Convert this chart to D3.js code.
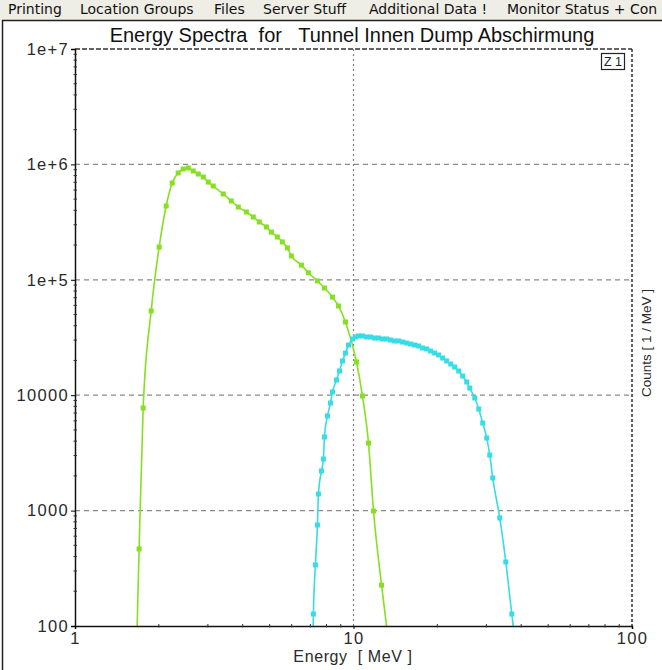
<!DOCTYPE html>
<html>
<head>
<meta charset="utf-8">
<script src="https://cdn.jsdelivr.net/npm/d3@7"></script>
<style>
  html, body { margin: 0; padding: 0; background: #ffffff; }
  svg { display: block; }
</style>
</head>
<body>
<svg id="chart" width="662" height="670"></svg>
<script>
// Menu entries of the viewer window
const menuItems = ["Printing", "Location Groups", "Files", "Server Stuff", "Additional Data !", "Monitor Status + Con"];
const menuX = [8, 80, 214, 263, 369, 507];

// Axis ticks
const xTickValues = [1, 10, 100];
const xTickLabels = ["1", "10", "100"];
const yTickValues = [100, 1000, 10000, 1e5, 1e6, 1e7];
const yTickLabels = ["100", "1000", "10000", "1e+5", "1e+6", "1e+7"];

// Spectrum 1 (green): energy [MeV] and counts [1/MeV]
const greenEnergy = [1.67, 1.699, 1.757, 1.877, 2.005, 2.125, 2.234, 2.347, 2.446, 2.550, 2.658, 2.770, 2.887, 3.009, 3.136, 3.406, 3.640, 3.858, 4.123, 4.368, 4.590, 4.866, 5.070, 5.327, 5.553, 5.788, 5.984, 6.502, 6.889, 7.422, 7.865, 8.404, 8.831, 9.359, 10.25, 10.77, 11.32, 11.80, 12.61, 13.21];
const greenCounts = [90, 465, 7745, 53700, 192300, 436000, 690000, 843000, 912000, 931000, 877000, 826000, 778000, 703000, 650000, 554000, 482000, 427000, 387000, 350000, 317000, 287000, 259000, 235000, 213000, 189000, 161000, 134000, 115000, 97700, 84900, 70900, 59300, 43100, 19400, 9840, 3850, 992, 226, 90];

// Spectrum 2 (cyan)
const cyanEnergy = [7.16, 7.178, 7.298, 7.422, 7.483, 7.672, 7.800, 7.865, 8.063, 8.266, 8.404, 8.687, 8.906, 9.129, 9.359, 9.594, 9.917, 10.17, 10.42, 10.77, 11.14, 11.52, 11.90, 12.30, 12.72, 13.14, 13.59, 14.05, 14.52, 15.01, 15.51, 16.03, 16.58, 17.13, 17.71, 18.30, 18.92, 19.56, 20.22, 20.90, 21.61, 22.34, 23.09, 23.87, 24.67, 25.50, 26.15, 27.25, 28.16, 29.11, 30.09, 30.85, 31.62, 33.51, 35.23, 37.02, 37.64];
const cyanCounts = [90, 127, 338, 750, 1393, 2204, 2800, 4344, 6604, 8553, 10660, 13550, 16200, 19800, 23200, 27200, 30700, 31940, 32600, 32600, 31940, 31900, 31300, 31300, 30700, 30700, 30070, 29500, 29500, 28900, 28340, 27780, 27230, 26700, 25650, 25150, 24150, 23200, 22300, 21000, 19800, 18640, 17550, 16200, 14660, 13010, 11540, 9460, 7590, 5740, 4256, 3033, 1917, 863, 359, 127, 90];

const greenColor = "#86e020";
const cyanColor = "#36dde6";

const svg = d3.select("#chart");
const font = "Liberation Sans, Arial, sans-serif";

// ---- window chrome: menu bar and panel frame ----
svg.append("rect").attr("x", 0).attr("y", 0).attr("width", 662).attr("height", 20).attr("fill", "#eeede6");
svg.selectAll("text.menu").data(menuItems).join("text")
  .attr("class", "menu")
  .attr("x", (d, i) => menuX[i]).attr("y", 14)
  .attr("font-family", "DejaVu Sans, Verdana, sans-serif")
  .attr("font-size", 14).attr("fill", "#111")
  .text(d => d);
svg.append("line").attr("x1", 2).attr("x2", 662).attr("y1", 20.5).attr("y2", 20.5).attr("stroke", "#222").attr("stroke-width", 1.5);
svg.append("line").attr("x1", 2.5).attr("x2", 2.5).attr("y1", 20).attr("y2", 670).attr("stroke", "#222").attr("stroke-width", 1.5);

// ---- plot area ----
const L = 75, R = 632, T = 49, B = 626;
const x = d3.scaleLog().domain([1, 100]).range([L, R]);
const y = d3.scaleLog().domain([100, 1e7]).range([B, T]);

// title
svg.append("text")
  .attr("x", 352).attr("y", 42)
  .attr("text-anchor", "middle")
  .attr("font-family", font)
  .attr("font-size", 20).attr("fill", "#111")
  .attr("xml:space", "preserve")
  .text("Energy Spectra  for   Tunnel Innen Dump Abschirmung");

// grid lines
const grid = svg.append("g");
grid.selectAll("line.hg").data(yTickValues.slice(1, -1)).join("line")
  .attr("x1", L).attr("x2", R).attr("y1", d => y(d)).attr("y2", d => y(d))
  .attr("stroke", "#8a8a8a").attr("stroke-width", 1.2).attr("stroke-dasharray", "5,4");
grid.selectAll("line.vg").data(xTickValues.slice(1, -1)).join("line")
  .attr("y1", T).attr("y2", B).attr("x1", d => x(d)).attr("x2", d => x(d))
  .attr("stroke", "#7d7a88").attr("stroke-width", 1.2).attr("stroke-dasharray", "2,3");

// frame: top and right borders dashed, left and bottom axes solid
svg.append("line").attr("x1", L).attr("x2", R).attr("y1", T).attr("y2", T).attr("stroke", "#333").attr("stroke-width", 1.5).attr("stroke-dasharray", "5,2");
svg.append("line").attr("x1", R).attr("x2", R).attr("y1", T).attr("y2", B).attr("stroke", "#333").attr("stroke-width", 1.5).attr("stroke-dasharray", "3,2");

// clipped data layer
svg.append("defs").append("clipPath").attr("id", "plotClip")
  .append("rect").attr("x", L).attr("y", T).attr("width", R - L).attr("height", B - T);
const dataLayer = svg.append("g").attr("clip-path", "url(#plotClip)");

const line = d3.line().x(d => x(d[0])).y(d => y(d[1])).curve(d3.curveMonotoneX);

function drawSeries(energy, counts, color) {
  const pts = energy.map((e, i) => [e, counts[i]]);
  dataLayer.append("path").datum(pts)
    .attr("d", line).attr("fill", "none").attr("stroke", color).attr("stroke-width", 1.6);
  dataLayer.selectAll(null).data(pts.filter(p => p[1] > 100)).join("rect")
    .attr("x", d => x(d[0]) - 2.5).attr("y", d => y(d[1]) - 2.5)
    .attr("width", 5).attr("height", 5).attr("fill", color);
}
drawSeries(greenEnergy, greenCounts, greenColor);
drawSeries(cyanEnergy, cyanCounts, cyanColor);

// axes
const yAxis = d3.axisLeft(y).tickValues(yTickValues).tickFormat((d, i) => yTickLabels[i]).tickSize(4).tickPadding(2);
const gy = svg.append("g").attr("transform", `translate(${L},0)`).call(yAxis);
gy.select(".domain").attr("stroke", "#111").attr("stroke-width", 1.5);
gy.selectAll("text").attr("font-family", font).attr("font-size", 16.5)
  .attr("letter-spacing", 1.3).attr("fill", "#2a2a2a");

const xAxis = d3.axisBottom(x).tickValues(xTickValues).tickFormat((d, i) => xTickLabels[i]).tickSize(3).tickPadding(3);
const gx = svg.append("g").attr("transform", `translate(0,${B})`).call(xAxis);
gx.select(".domain").attr("stroke", "#111").attr("stroke-width", 1.5);
gx.selectAll("text").attr("font-family", font).attr("font-size", 16.5)
  .attr("letter-spacing", 1.3).attr("fill", "#2a2a2a");

// minor ticks on the log axes
const yMinor = [];
for (let p = 2; p < 7; p++) for (let m = 2; m <= 9; m++) yMinor.push(m * Math.pow(10, p));
svg.append("g").selectAll("line").data(yMinor).join("line")
  .attr("x1", L - 1.5).attr("x2", L + 2).attr("y1", d => y(d)).attr("y2", d => y(d))
  .attr("stroke", "#333").attr("stroke-width", 1);
const xMinor = [];
for (let p = 0; p < 2; p++) for (let m = 2; m <= 9; m++) xMinor.push(m * Math.pow(10, p));
svg.append("g").selectAll("line").data(xMinor).join("line")
  .attr("y1", B - 2).attr("y2", B + 1.5).attr("x1", d => x(d)).attr("x2", d => x(d))
  .attr("stroke", "#333").attr("stroke-width", 1);

// axis titles
svg.append("text")
  .attr("x", 353).attr("y", 662)
  .attr("text-anchor", "middle")
  .attr("font-family", font).attr("font-size", 16).attr("letter-spacing", 0.6).attr("fill", "#2a2a2a")
  .attr("xml:space", "preserve")
  .text("Energy  [ MeV ]");
svg.append("text")
  .attr("transform", "translate(651,343) rotate(-90)")
  .attr("text-anchor", "middle")
  .attr("font-family", font).attr("font-size", 13.5).attr("fill", "#2a2a2a")
  .text("Counts [ 1 / MeV ]");

// zone marker
svg.append("rect").attr("x", 601.5).attr("y", 53.5).attr("width", 23).attr("height", 16)
  .attr("fill", "none").attr("stroke", "#222").attr("stroke-width", 1.2);
svg.append("text").attr("x", 613).attr("y", 66)
  .attr("text-anchor", "middle")
  .attr("font-family", font).attr("font-size", 12.5).attr("fill", "#222")
  .text("Z 1");
</script>
</body>
</html>
